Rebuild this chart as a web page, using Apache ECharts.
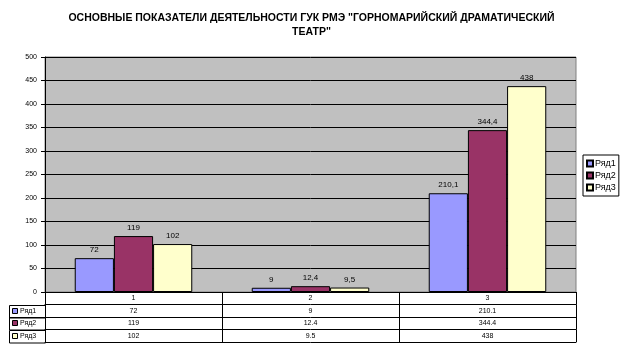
<!DOCTYPE html>
<html><head><meta charset="utf-8">
<script src="https://cdn.jsdelivr.net/npm/echarts@6/dist/echarts.min.js"></script>
<style>html,body{margin:0;padding:0;background:#fff}#c{width:623px;height:352px}</style>
</head><body><div id="c"></div>
<script>
const titleText = 'ОСНОВНЫЕ ПОКАЗАТЕЛИ ДЕЯТЕЛЬНОСТИ ГУК РМЭ "ГОРНОМАРИЙСКИЙ ДРАМАТИЧЕСКИЙ\nТЕАТР"';
const categories = ['1', '2', '3'];
const seriesNames = ['Ряд1', 'Ряд2', 'Ряд3'];
const row1 = [72, 9, 210.1];
const row2 = [119, 12.4, 344.4];
const row3 = [102, 9.5, 438];
const yTicks = [0, 50, 100, 150, 200, 250, 300, 350, 400, 450, 500];
const colors = ['#9999FF', '#993366', '#FFFFCC'];
const rows = [row1, row2, row3];

const FONT = 'Liberation Sans';
const ROW_H = 12.5;
const chart = echarts.init(document.getElementById('c'), null, {renderer: 'canvas'});

const baseAxis = {
  type: 'category', data: categories, gridIndex: 0, position: 'bottom',
  boundaryGap: true,
  axisLine: {show: true, lineStyle: {color: '#000', width: 1}},
  axisTick: {show: true, interval: 0, length: ROW_H, lineStyle: {color: '#000', width: 1}},
  axisLabel: {show: true, interval: 0, fontFamily: FONT, fontSize: 7, color: '#000', margin: 3},
  splitLine: {show: false}
};
const xAxes = [Object.assign({}, baseAxis, {offset: 0})];
rows.forEach((r, k) => {
  xAxes.push(Object.assign({}, baseAxis, {
    offset: ROW_H * (k + 1),
    axisLabel: Object.assign({}, baseAxis.axisLabel, {formatter: (v, i) => String(r[i])})
  }));
});
xAxes.push(Object.assign({}, baseAxis, {
  offset: ROW_H * 4, axisTick: {show: false}, axisLabel: {show: false}
}));

const fmt = v => String(v).replace('.', ',');

const option = {
  animation: false,
  backgroundColor: '#fff',
  textStyle: {fontFamily: FONT},
  title: {
    text: titleText, left: 'center', top: 6,
    textStyle: {fontFamily: FONT, fontSize: 10.5, fontWeight: 'bold', color: '#000', lineHeight: 14}
  },
  legend: {
    orient: 'vertical', left: 583, top: 155,
    itemWidth: 6, itemHeight: 6, itemGap: 3,
    padding: [4, 3, 4, 3],
    borderColor: '#000', borderWidth: 1,
    textStyle: {fontFamily: FONT, fontSize: 9, color: '#000', padding: [0, 0, 0, -3]},
    icon: 'rect',
    data: seriesNames
  },
  grid: {
    left: 45, right: 47, top: 57, bottom: 60, containLabel: false,
    show: true, backgroundColor: '#C0C0C0', borderColor: '#808080', borderWidth: 1
  },
  xAxis: xAxes,
  yAxis: {
    type: 'value', min: yTicks[0], max: yTicks[yTicks.length - 1], interval: 50,
    axisLine: {show: true, lineStyle: {color: '#000'}},
    axisTick: {show: true, length: 4, lineStyle: {color: '#000'}},
    axisLabel: {fontFamily: FONT, fontSize: 7, color: '#000', margin: 8},
    splitLine: {show: true, lineStyle: {color: '#000', width: 1}}
  },
  series: rows.map((r, k) => ({
    name: seriesNames[k], type: 'bar', xAxisIndex: 0, data: r,
    barGap: '0%', barCategoryGap: '33.6%',
    itemStyle: {color: colors[k], borderColor: '#000', borderWidth: 1},
    label: {show: true, position: 'top', distance: 4, fontFamily: FONT, fontSize: 8, color: '#000',
      formatter: p => fmt(p.value)}
  }))
};
chart.setOption(option);

// legend-key column at left of the data table
const x0 = 9, x1 = 45;
const gridBottom = chart.convertToPixel({yAxisIndex: 0}, 0);
const g = [];
for (let k = 0; k < 3; k++) {
  const top = gridBottom + ROW_H * (k + 1);
  g.push({type: 'rect', shape: {x: x0 + 0.5, y: Math.round(top) + 0.5, width: x1 - x0, height: ROW_H},
    style: {fill: 'none', stroke: '#000', lineWidth: 1}, silent: true});
  g.push({type: 'rect', shape: {x: x0 + 3.5, y: Math.round(top + ROW_H / 2 - 3) + 0.5, width: 5, height: 5},
    style: {fill: colors[k], stroke: '#000', lineWidth: 1}, silent: true});
  g.push({type: 'text', x: x0 + 11, y: top + ROW_H / 2,
    style: {text: seriesNames[k], fontFamily: FONT, fontSize: 7, fill: '#000', verticalAlign: 'middle'}, silent: true});
}
chart.setOption({graphic: g});
</script></body></html>
